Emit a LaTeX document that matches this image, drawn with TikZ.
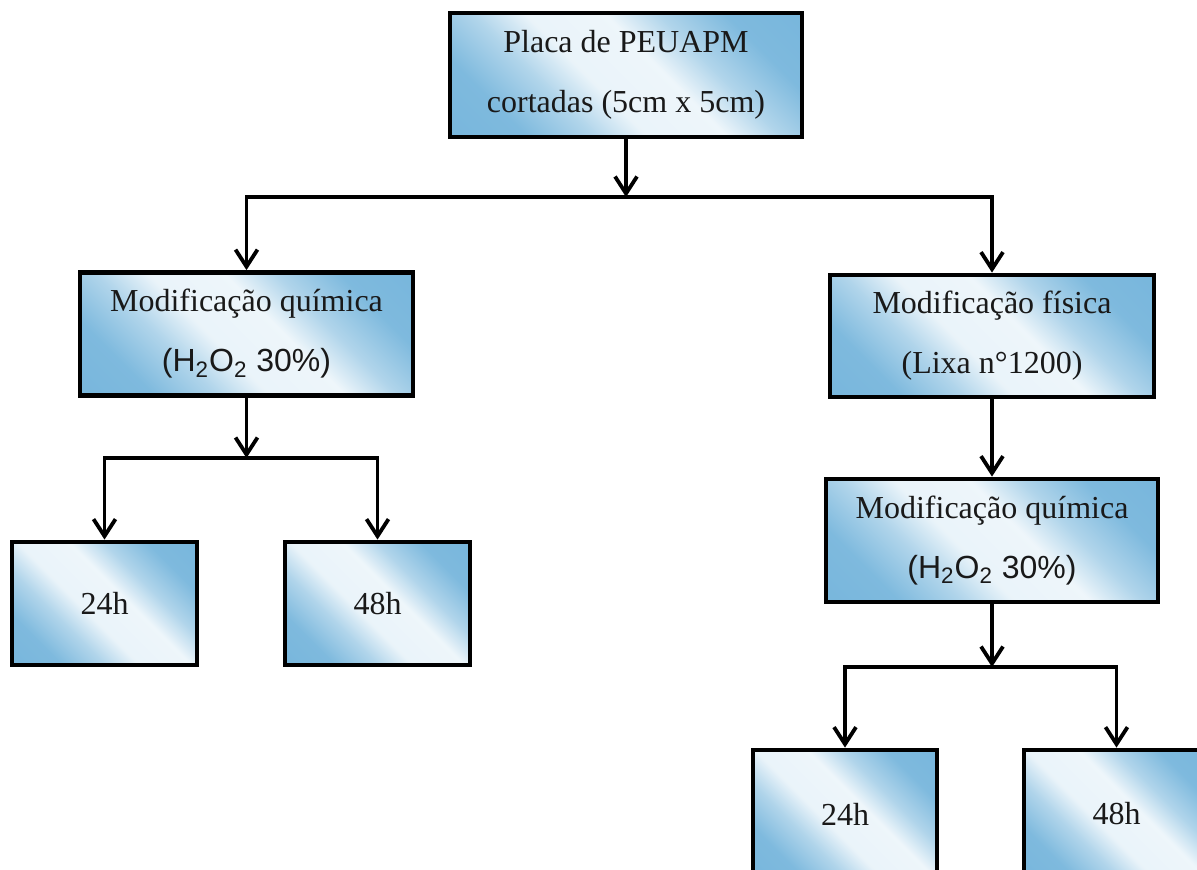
\documentclass[tikz,border=0pt]{standalone}
\usepackage{fontspec}
\setmainfont{Liberation Serif}
\newfontfamily\arialf{Liberation Sans}
\usetikzlibrary{arrows.meta}
\definecolor{bb}{RGB}{112,178,218}
\pgfdeclareverticalshading{boxsh}{100bp}{color(0bp)=(bb); color(26bp)=(bb!90!white); color(36bp)=(bb!55!white); color(44bp)=(bb!15!white); color(56bp)=(bb!12!white); color(64bp)=(bb!55!white); color(74bp)=(bb!90!white); color(100bp)=(bb)}
\tikzset{
  box/.style={draw=black, line width=2.4pt, rectangle, inner sep=0pt, align=center,
    shading=boxsh, shading angle=-45,
    font=\fontsize{16}{30}\selectfont, text=black!90},
  conn/.style={line width=1.9pt, -{Straight Barb[length=8.5pt,width=11pt]}},
}
\newcommand{\hto}{{\arialf(H\textsubscript{2}O\textsubscript{2} 30\%)}}
\begin{document}
\begin{tikzpicture}[x=0.5pt,y=-0.5pt]
\useasboundingbox (0,0) rectangle (1197,869);
\clip (0,0) rectangle (1197,869);
\node[box, minimum width=176pt, minimum height=62pt] (top) at (626,75) {Placa de PEUAPM\\cortadas (5cm x 5cm)};
\node[box, minimum width=166.5pt, minimum height=61.5pt] (A) at (246.5,334) {Modificação química\\\hto};
\node[box, minimum width=162pt, minimum height=61pt] (B) at (992,336) {Modificação física\\(Lixa n°1200)};
\node[box, minimum width=166pt, minimum height=61.5pt] (C) at (992,540.5) {Modificação química\\\hto};
\node[box, minimum width=92.5pt, minimum height=61.5pt] (L24) at (104.5,603.5) {24h};
\node[box, minimum width=92.5pt, minimum height=61.5pt] (L48) at (377.5,603.5) {48h};
\node[box, minimum width=92pt, minimum height=64pt] (R24) at (845,814) {24h};
\node[box, minimum width=92.5pt, minimum height=64pt] (R48) at (1116.5,814) {48h};
\coordinate (j1) at (626,197);
\coordinate (j2) at (246.5,458);
\coordinate (j3) at (992,667);
\draw[conn] (top.south) -- (j1);
\draw[conn] (j1) -| (A.north);
\draw[conn] (j1) -| (B.north);
\draw[conn] (A.south) -- (j2);
\draw[conn] (j2) -| (L24.north);
\draw[conn] (j2) -| (L48.north);
\draw[conn] (B.south) -- (C.north);
\draw[conn] (C.south) -- (j3);
\draw[conn] (j3) -| (R24.north);
\draw[conn] (j3) -| (R48.north);
\end{tikzpicture}
\end{document}
